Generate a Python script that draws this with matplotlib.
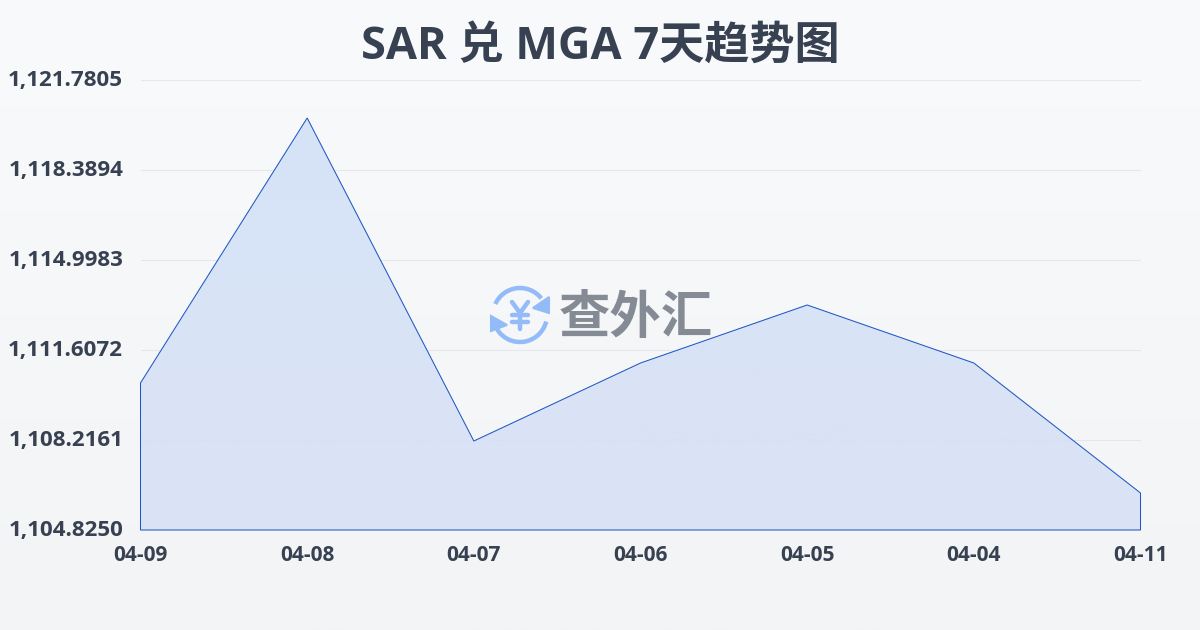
import numpy as np
import matplotlib
matplotlib.use("Agg")
import matplotlib.pyplot as plt
import matplotlib.transforms as mtrans
from matplotlib.patches import Polygon, Arc

plt.rcParams['font.family'] = ['Open Sans', 'Noto Sans CJK SC', 'DejaVu Sans']

title = "SAR 兑 MGA 7天趋势图"
dates = ["04-09", "04-08", "04-07", "04-06", "04-05", "04-04", "04-11"]
rates = [1110.364, 1120.349, 1108.178, 1111.117, 1113.303, 1111.117, 1106.219]
y_ticks = [1104.8250, 1108.2161, 1111.6072, 1114.9983, 1118.3894, 1121.7805]
watermark = "查外汇"

TEXT = "#374151"
fig = plt.figure(figsize=(12, 6.3), dpi=100)

# page background
bg = fig.add_axes([0, 0, 1, 1], zorder=0)
bg.axis("off")
c0 = np.array([0xf9, 0xfa, 0xfc]) / 255
c1 = np.array([0xf3, 0xf4, 0xf6]) / 255
t = np.linspace(0, 1, 256)[:, None, None]
bg.imshow(c0 * (1 - t) + c1 * t, aspect="auto", extent=[0, 1, 0, 1], origin="upper")

ax = fig.add_axes([140.5 / 1200, 100 / 630, 1000 / 1200, 450 / 630], zorder=1)
ax.patch.set_alpha(0)
x = np.arange(len(dates))
ax.set_xlim(0, len(dates) - 1)
ax.set_ylim(y_ticks[0], y_ticks[-1])

# gridlines
ax.set_yticks(y_ticks)
ax.set_yticklabels([f"{v:,.4f}" for v in y_ticks])
ax.set_xticks(x)
ax.set_xticklabels(dates)
ax.grid(axis="y", color="#e5e7eb", lw=0.8)
ax.set_axisbelow(True)
for s in ax.spines.values():
    s.set_visible(False)
ax.tick_params(axis="both", length=0)
ax.tick_params(axis="y", labelsize=16.1, labelcolor=TEXT, pad=12.5)
ax.tick_params(axis="x", labelsize=15, labelcolor=TEXT, pad=11)
for l in ax.get_yticklabels() + ax.get_xticklabels():
    l.set_fontweight("bold")
shift = mtrans.ScaledTranslation(0, 2 / 100, fig.dpi_scale_trans)
for l in ax.get_yticklabels():
    l.set_transform(l.get_transform() + shift)

# gradient area
top = np.array([0xd5, 0xe2, 0xf7]) / 255
bot = np.array([0xda, 0xe2, 0xf5]) / 255
g = np.linspace(0, 1, 256)[:, None, None]
im = ax.imshow(top * (1 - g) + bot * g, aspect="auto", origin="upper",
               extent=[0, len(dates) - 1, y_ticks[0], max(rates)], zorder=2, alpha=0.95)
ax.set_xlim(0, len(dates) - 1)
ax.set_ylim(y_ticks[0], y_ticks[-1])
verts = [(0, y_ticks[0])] + list(zip(x, rates)) + [(x[-1], y_ticks[0])]
clip = Polygon(verts, closed=True, transform=ax.transData, fc="none", ec="none")
ax.add_patch(clip)
im.set_clip_path(clip)
ax.add_patch(Polygon(verts, closed=True, fc="none", ec="#2058c4", lw=0.75, zorder=3, clip_on=False))

# title
fig.text(0.5, 1 - 47 / 630, title, ha="center", va="center", fontsize=32.5,
         fontweight="bold", color=TEXT)

# watermark
fig.text(636 / 1200, 1 - 318 / 630, watermark, ha="center", va="center", fontsize=37,
         fontweight="bold", color="#7f858f", alpha=0.95, zorder=5,
         family=["Noto Sans CJK SC"])
wm = fig.add_axes([0, 0, 1, 1], zorder=4)
wm.axis("off")
wm.patch.set_alpha(0)
wm.set_xlim(0, 1200)
wm.set_ylim(630, 0)
logo = "#93bbf8"
cx, cy, r = 520, 315, 27
# y axis is inverted here, so Arc angles run clockwise on screen
wm.add_patch(Arc((cx, cy), 2 * r, 2 * r, theta1=204, theta2=322, color=logo, lw=3.2))
wm.add_patch(Arc((cx, cy), 2 * r, 2 * r, theta1=14, theta2=148, color=logo, lw=3.2))
wm.add_patch(Polygon([(549, 297), (549, 313), (533, 308)], closed=True, fc=logo, ec=logo, lw=1.5))
wm.add_patch(Polygon([(491, 316), (491, 331), (507, 325)], closed=True, fc=logo, ec=logo, lw=1.5))
wm.plot([512, 520, 528], [302, 313, 302], color=logo, lw=3.2, solid_capstyle="round")
wm.plot([520, 520], [313, 329], color=logo, lw=3.2, solid_capstyle="round")
wm.plot([512, 528], [315, 315], color=logo, lw=3.2, solid_capstyle="round")
wm.plot([512, 528], [322, 322], color=logo, lw=3.2, solid_capstyle="round")
wm.set_xlim(0, 1200)
wm.set_ylim(630, 0)

fig.savefig("out.png", dpi=100)
